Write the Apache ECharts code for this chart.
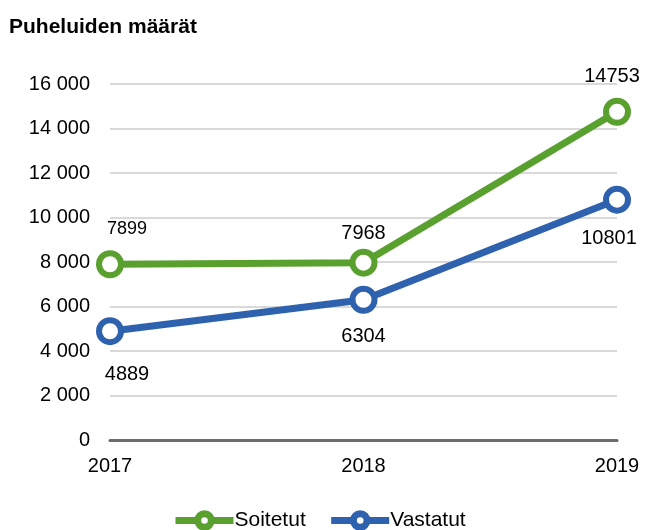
<!DOCTYPE html>
<html>
<head>
<meta charset="utf-8">
<script src="https://cdn.jsdelivr.net/npm/echarts@6/dist/echarts.min.js"></script>
<style>
  html, body { margin: 0; padding: 0; background: #fff; }
  #chart { width: 646px; height: 530px; }
</style>
</head>
<body>
<div id="chart"></div>
<script>
// Puhelutilasto vuosittain
const years = ['2017', '2018', '2019'];
const soitetut = [7899, 7968, 14753];
const vastatut = [4889, 6304, 10801];

const greenColor = '#59A02F';
const blueColor = '#2F62AE';

// Etiketin sijainti kullekin pisteelle
const soitetutLabels = [
    { position: 'top', distance: 12, offset: [17, 0], fontSize: 18 },
    { position: 'top', distance: 5, offset: [0, 0] },
    { position: 'top', distance: 11, offset: [-5, 0] }
];
const vastatutLabels = [
    { position: 'bottom', distance: 19, offset: [17, 0] },
    { position: 'bottom', distance: 13, offset: [0, 0] },
    { position: 'bottom', distance: 15, offset: [-8, 0] }
];

function buildData(values, labels) {
    return values.map((v, i) => ({ value: v, label: labels[i] }));
}

const chartDom = document.getElementById('chart');
const myChart = echarts.init(chartDom);

const option = {
    animation: false,
    textStyle: { fontFamily: 'Liberation Sans, Arial, sans-serif' },
    title: {
        text: 'Puheluiden määrät',
        left: 4,
        top: 12,
        textStyle: {
            fontSize: 21,
            fontWeight: 'bold',
            color: '#000',
            fontFamily: 'Liberation Sans, Arial, sans-serif'
        }
    },
    legend: {
        top: 505,
        left: 167,
        itemWidth: 58,
        itemHeight: 17,
        itemGap: 22,
        lineStyle: { width: 7 },
        itemStyle: { borderWidth: 7 },
        textStyle: { fontSize: 21, color: '#000', padding: [0, 0, 0, -4] },
        data: ['Soitetut', 'Vastatut']
    },
    grid: {
        left: 110,
        right: 29,
        top: 84,
        bottom: 90
    },
    xAxis: {
        type: 'category',
        data: years,
        boundaryGap: false,
        axisLine: { lineStyle: { color: '#6B6B6B', width: 3 } },
        axisTick: { show: false },
        axisLabel: { fontSize: 20, color: '#000', margin: 16 }
    },
    yAxis: {
        type: 'value',
        min: 0,
        max: 16000,
        interval: 2000,
        axisLine: { show: false },
        axisTick: { show: false },
        splitLine: { lineStyle: { color: '#D9D9D9', width: 2 } },
        axisLabel: {
            fontSize: 20,
            color: '#000',
            margin: 20,
            formatter: v => v === 0 ? '0' : String(v).replace(/\B(?=(\d{3})+(?!\d))/g, ' ')
        }
    },
    series: [
        {
            name: 'Soitetut',
            type: 'line',
            data: buildData(soitetut, soitetutLabels),
            symbol: 'circle',
            symbolSize: 22,
            showAllSymbol: true,
            lineStyle: { color: greenColor, width: 7 },
            itemStyle: { color: '#fff', borderColor: greenColor, borderWidth: 6 },
            label: { show: true, color: '#000', fontSize: 20 }
        },
        {
            name: 'Vastatut',
            type: 'line',
            data: buildData(vastatut, vastatutLabels),
            symbol: 'circle',
            symbolSize: 22,
            showAllSymbol: true,
            lineStyle: { color: blueColor, width: 7 },
            itemStyle: { color: '#fff', borderColor: blueColor, borderWidth: 6 },
            label: { show: true, color: '#000', fontSize: 20 }
        }
    ]
};

myChart.setOption(option);
</script>
</body>
</html>
